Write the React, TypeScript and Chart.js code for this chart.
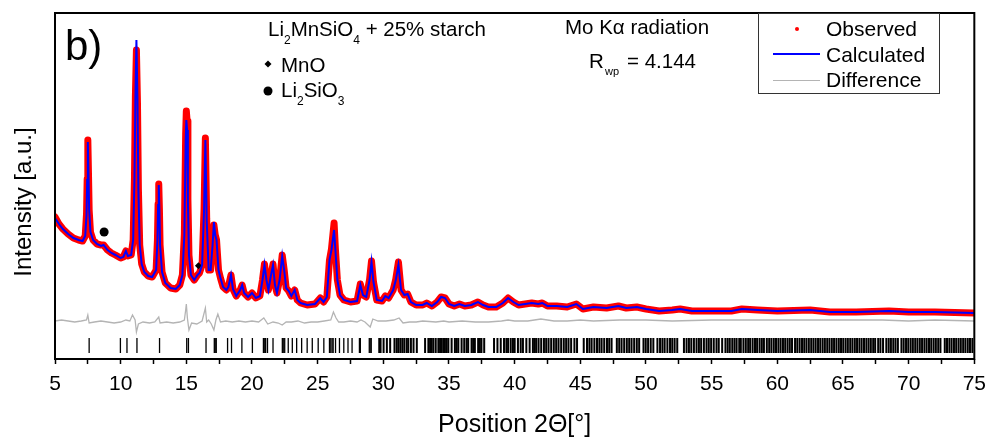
import React, { useEffect, useRef } from "react";
import { Chart, registerables } from "chart.js";
Chart.register(...registerables);

const FAMILY = "'Liberation Sans', Arial, sans-serif";

// 2θ grid (degrees) for observed / calculated profiles
const twoTheta = [
  5.0, 5.3, 5.6, 6.0, 6.4, 6.8, 7.1, 7.3, 7.4, 7.45, 7.5, 7.55, 7.6, 7.7, 7.9, 8.2, 8.5, 8.7, 9.0, 9.3, 9.6,
  10.0, 10.2, 10.4, 10.55, 10.8, 10.95, 11.05, 11.12, 11.2, 11.28, 11.35, 11.45, 11.6, 11.8, 12.1, 12.4, 12.7,
  12.8, 12.85, 12.9, 12.95, 13.0, 13.15, 13.4, 13.8, 14.2, 14.5, 14.7, 14.85, 14.95, 15.0, 15.06, 15.12, 15.2,
  15.35, 15.6, 15.85, 16.0, 16.2, 16.35, 16.45, 16.55, 16.7, 16.85, 17.0, 17.1, 17.2, 17.3, 17.45, 17.6, 17.8,
  18.05, 18.2, 18.4, 18.55, 18.8, 19.1, 19.25, 19.4, 19.7, 20.0, 20.3, 20.6, 20.8, 20.95, 21.1, 21.25, 21.45,
  21.6, 21.75, 21.9, 22.1, 22.3, 22.45, 22.6, 22.8, 23.0, 23.25, 23.45, 23.7, 24.2, 24.8, 25.2, 25.45, 25.7,
  25.9, 26.05, 26.15, 26.25, 26.35, 26.5, 26.7, 27.0, 27.5, 28.0, 28.25, 28.45, 28.7, 28.95, 29.1, 29.25, 29.5,
  29.9, 30.15, 30.4, 30.75, 30.95, 31.15, 31.35, 31.6, 31.85, 32.1, 32.5, 33.0, 33.3, 33.7, 34.1, 34.4, 34.7,
  35.0, 35.4, 35.8, 36.2, 36.7, 37.2, 37.6, 38.0, 38.6, 39.1, 39.5, 39.9, 40.3, 40.8, 41.3, 41.8, 42.1, 42.5,
  43.2, 44.0, 44.7, 45.2, 46.0, 47.0, 47.9, 48.5, 49.3, 50.0, 51.0, 52.0, 52.6, 53.5, 55.0, 56.5, 57.3, 58.5,
  60.0, 62.5, 64.0, 66.0, 68.5, 70.0, 72.0, 75.0,
];

const calculated = [
  1410, 1350, 1300, 1250, 1210, 1190, 1180, 1230, 1440, 1790, 2170, 1840, 1490, 1270, 1190, 1150, 1130, 1140, 1090, 1060, 1040,
  1010, 1020, 1080, 1030, 1040, 1190, 1790, 2590, 3190, 2590, 1690, 1140, 950, 870, 830, 820, 890,
  1190, 1540, 1740, 1490, 1140, 870, 760, 710, 700, 740, 840, 1240, 2190, 2390, 2290, 1590, 1040,
  840, 790, 840, 860, 940, 1490, 2190, 1390, 890, 890, 1140, 1370, 1240, 1190, 890, 810, 720,
  690, 720, 840, 700, 630, 690, 740, 660, 620, 660, 610, 630, 790, 940, 790, 690, 840,
  940, 740, 660, 790, 1030, 890, 710, 680, 630, 690, 590, 560, 540, 550, 610, 570, 620,
  990, 1090, 1190, 1290, 1090, 790, 640, 590, 570, 580, 740, 640, 620, 790, 970, 770, 590,
  580, 630, 610, 690, 790, 940, 690, 640, 650, 570, 540, 540, 560, 530, 570, 620, 610,
  550, 530, 550, 530, 540, 570, 540, 520, 520, 560, 610, 570, 540, 550, 560, 550, 560, 530,
  530, 520, 550, 500, 520, 510, 530, 510, 520, 500, 480, 490, 500, 480, 480, 480, 500, 490,
  480, 490, 470, 470, 480, 470, 470, 460,
];

const observed = [
  1420, 1350, 1300, 1250, 1210, 1190, 1180, 1230, 1450, 1800, 2190, 1850, 1490, 1270, 1190, 1150, 1140, 1140, 1090, 1060, 1040,
  1010, 1020, 1080, 1030, 1040, 1190, 1800, 2620, 3090, 2560, 1700, 1140, 950, 870, 830, 820, 890,
  1190, 1550, 1750, 1500, 1140, 870, 760, 710, 700, 740, 840, 1250, 2250, 2480, 2380, 1600, 1040,
  840, 790, 840, 860, 940, 1500, 2210, 1400, 890, 890, 1140, 1340, 1240, 1190, 890, 810, 720,
  690, 720, 840, 700, 630, 690, 740, 660, 620, 660, 610, 630, 790, 950, 790, 690, 840,
  950, 740, 660, 790, 1040, 890, 710, 680, 630, 690, 590, 560, 540, 550, 610, 570, 620,
  990, 1100, 1230, 1360, 1100, 790, 640, 590, 570, 580, 750, 640, 620, 790, 980, 770, 590,
  580, 630, 610, 690, 800, 970, 690, 640, 650, 570, 540, 540, 560, 530, 570, 620, 610,
  550, 530, 550, 530, 540, 570, 540, 520, 520, 560, 610, 570, 540, 550, 560, 550, 560, 530,
  530, 520, 550, 500, 520, 510, 530, 510, 520, 500, 480, 490, 500, 480, 480, 480, 500, 490,
  480, 490, 470, 470, 480, 470, 470, 460,
];

// Difference curve (observed - calculated, offset)
const diffTheta = [
  5.0, 5.5, 6.0, 6.5, 7.0, 7.4, 7.5, 7.6, 8.0, 8.5, 9.0, 9.5, 10.0, 10.4, 10.7, 10.9, 11.1, 11.2, 11.35, 11.7,
  12.2, 12.6, 12.9, 13.0, 13.5, 14.0, 14.5, 14.85, 14.95, 15.0, 15.08, 15.2, 15.4, 15.8, 16.2, 16.45, 16.55,
  16.7, 16.9, 17.1, 17.25, 17.4, 17.6, 18.0, 18.5, 19.0, 19.5, 20.0, 20.5, 20.9, 21.2, 21.6, 22.0, 22.3, 22.6,
  23.0, 23.5, 24.0, 24.5, 25.0, 25.5, 26.0, 26.2, 26.4, 26.6, 27.0, 27.5, 28.0, 28.3, 28.6, 29.0, 29.2, 29.6,
  30.2, 30.8, 31.2, 31.5, 32.0, 32.5, 33.0, 34.0, 34.6, 35.0, 36.0, 37.0, 38.0, 39.0, 39.5, 40.0, 41.0, 42.0,
  43.0, 44.0, 45.0, 46.0, 48.0, 50.0, 52.0, 55.0, 58.0, 60.0, 62.0, 65.0, 68.0, 70.0, 72.0, 75.0,
];

const difference = [
  380, 390, 380, 370, 380, 390, 440, 360, 370, 380, 370, 360, 370, 390, 380, 440, 390, 270, 350, 370,
  360, 370, 420, 360, 370, 360, 370, 390, 490, 550, 410, 290, 360, 350, 380, 510, 370,
  390, 350, 290, 390, 450, 370, 380, 370, 380, 370, 380, 370, 410, 350, 370, 360, 340, 370,
  370, 380, 360, 370, 370, 380, 390, 470, 410, 370, 370, 380, 370, 390, 370, 320, 400, 380,
  380, 390, 410, 360, 370, 370, 380, 370, 380, 370, 380, 370, 370, 380, 390, 380, 380, 400,
  380, 380, 390, 380, 390, 390, 380, 390, 390, 390, 390, 390, 390, 380, 390, 380,
];

// Bragg reflection positions (2θ)
const reflections = [
  7.6, 9.98, 10.48, 11.24, 12.96, 15.03, 15.16, 16.5, 17.13, 17.2, 17.28, 18.14, 18.44, 19.23, 20.03, 20.87,
  20.97, 21.04, 21.18, 21.6, 22.31, 22.38, 22.49, 22.76, 23.07, 23.4, 23.78, 24.2, 24.59, 25.04, 25.47, 25.9,
  26.0, 26.1, 26.18, 26.36, 26.66, 26.99, 27.31, 27.62, 28.18, 28.25, 28.93, 29.0, 29.08, 29.69, 29.79, 30.02,
  30.27, 30.52, 30.85, 31.02, 31.15, 31.3, 31.45, 31.6, 31.78, 31.9, 32.1, 32.3, 32.55,
  33.18, 33.43, 33.56, 33.68, 33.81, 33.99, 34.19, 34.32, 34.44, 34.57, 34.69, 34.82, 34.95, 35.2, 35.45,
  35.58, 35.71, 35.96, 36.16, 36.34, 36.46, 36.72, 36.84, 36.97, 37.22, 37.35, 37.47, 37.68,
  38.43, 38.69, 38.94, 39.19, 39.37, 39.5, 39.7, 39.87, 40.0, 40.25, 40.46, 40.63, 40.89, 41.14, 41.39,
  41.52, 41.64, 41.82, 42.02, 42.23, 42.4, 42.58, 42.78, 42.98, 43.16, 43.34, 43.54, 43.74, 43.92, 44.1,
  44.3, 44.55, 44.75,
  45.26, 45.51, 45.69, 45.86, 46.07, 46.27, 46.45, 46.62, 46.82, 47.03, 47.2, 47.38,
  47.78, 47.96, 48.14, 48.34, 48.54, 48.72, 48.9, 49.1, 49.3, 49.48,
  49.81, 49.98, 50.16, 50.36, 50.56,
  50.87, 51.07, 51.25, 51.42, 51.63, 51.83, 52.0, 52.18, 52.38,
  52.89, 53.09, 53.27, 53.45, 53.65, 53.85, 54.03, 54.2, 54.41, 54.61, 54.78, 54.96, 55.16, 55.37, 55.54,
  55.8, 56.05, 56.22, 56.38, 56.57, 56.74, 56.9, 57.1, 57.22, 57.42, 57.6, 57.78, 57.93, 58.12, 58.3,
  58.46, 58.65, 58.82, 58.98, 59.2, 59.38, 59.55, 59.73, 59.9, 60.08, 60.25, 60.43, 60.6, 60.78, 60.95,
  61.12, 61.35, 61.52, 61.7, 61.88, 62.05, 62.22, 62.4, 62.58, 62.75, 62.92, 63.1, 63.27, 63.45, 63.62,
  63.8, 63.97, 64.15, 64.32, 64.5, 64.68, 64.85, 65.02, 65.2, 65.37, 65.55, 65.72, 65.9, 66.07, 66.25,
  66.42, 66.6, 66.78, 66.95, 67.12, 67.3, 67.45, 67.68, 67.85, 68.05, 68.3, 68.48, 68.65, 68.83, 69.0,
  69.18, 69.45, 69.62, 69.8, 69.97, 70.15, 70.32, 70.5, 70.67, 70.85, 71.02, 71.2, 71.37, 71.55, 71.72,
  71.9, 72.07, 72.25, 72.42, 72.75, 72.92, 73.1, 73.27, 73.45, 73.62, 73.8, 73.97, 74.15, 74.32, 74.5,
  74.67, 74.85,
];
const reflectionLevel = 135;

// Impurity phase markers
const mnoMarker = { x: 15.92, y: 933 };
const li2sio3Marker = { x: 8.74, y: 1270 };

const xTickValues = [
  5, 7.5, 10, 12.5, 15, 17.5, 20, 22.5, 25, 27.5, 30, 32.5, 35, 37.5, 40, 42.5, 45, 47.5, 50, 52.5, 55,
  57.5, 60, 62.5, 65, 67.5, 70, 72.5, 75,
];

type Part = [string, boolean];
function drawParts(ctx: CanvasRenderingContext2D, x: number, y: number, parts: Part[], size: number, subSize: number, subDy: number) {
  let cx = x;
  for (const [t, sub] of parts) {
    ctx.font = `${sub ? subSize : size}px ${FAMILY}`;
    ctx.fillText(t, cx, sub ? y + subDy : y);
    cx += ctx.measureText(t).width;
  }
}

const annotations = {
  id: "annotations",
  afterDraw(chart: any) {
    const ctx: CanvasRenderingContext2D = chart.ctx;
    const { left, top, right, bottom } = chart.chartArea;
    ctx.save();
    // frame
    ctx.strokeStyle = "#000";
    ctx.lineWidth = 2;
    ctx.strokeRect(left, top, right - left, bottom - top);

    ctx.fillStyle = "#000";
    ctx.textAlign = "left";
    ctx.textBaseline = "alphabetic";

    // panel label
    ctx.font = `42px ${FAMILY}`;
    ctx.fillText("b)", 65, 60);

    // sample description
    drawParts(ctx, 268, 36, [["Li", false], ["2", true], ["MnSiO", false], ["4", true], [" + 25% starch", false]], 20.5, 12, 8);

    // phase legend
    ctx.beginPath();
    ctx.moveTo(268, 60.5);
    ctx.lineTo(271.5, 64);
    ctx.lineTo(268, 67.5);
    ctx.lineTo(264.5, 64);
    ctx.closePath();
    ctx.fill();
    ctx.font = `20.5px ${FAMILY}`;
    ctx.fillText("MnO", 281, 72);
    ctx.beginPath();
    ctx.arc(268, 91, 4.5, 0, Math.PI * 2);
    ctx.fill();
    drawParts(ctx, 281, 97, [["Li", false], ["2", true], ["SiO", false], ["3", true]], 20.5, 12, 8);

    // radiation / Rwp
    ctx.font = `20.5px ${FAMILY}`;
    ctx.fillText("Mo K\u03b1 radiation", 565, 34);
    ctx.fillText("R", 589, 68);
    ctx.font = `11px ${FAMILY}`;
    ctx.fillText("wp", 605, 75);
    ctx.font = `20.5px ${FAMILY}`;
    ctx.fillText("= 4.144", 627, 68);

    // legend box
    ctx.fillStyle = "#fff";
    ctx.fillRect(758, 13, 182, 81);
    ctx.strokeStyle = "#333";
    ctx.lineWidth = 1;
    ctx.strokeRect(758.5, 13.5, 181, 80);
    ctx.fillStyle = "#ff0000";
    ctx.beginPath();
    ctx.arc(797, 29, 2, 0, Math.PI * 2);
    ctx.fill();
    ctx.strokeStyle = "#0000ff";
    ctx.lineWidth = 2;
    ctx.beginPath();
    ctx.moveTo(773, 54);
    ctx.lineTo(820, 54);
    ctx.stroke();
    ctx.strokeStyle = "#b4b4b4";
    ctx.lineWidth = 1;
    ctx.beginPath();
    ctx.moveTo(773, 80.5);
    ctx.lineTo(820, 80.5);
    ctx.stroke();
    ctx.fillStyle = "#000";
    ctx.font = `21px ${FAMILY}`;
    ctx.fillText("Observed", 826, 36);
    ctx.fillText("Calculated", 826, 62);
    ctx.fillText("Difference", 826, 87);

    // y title
    ctx.save();
    ctx.translate(24, 202);
    ctx.rotate(-Math.PI / 2);
    ctx.textAlign = "center";
    ctx.textBaseline = "middle";
    ctx.font = `24px ${FAMILY}`;
    ctx.fillText("Intensity [a.u.]", 0, 0);
    ctx.restore();

    ctx.restore();
  },
};

export default function App() {
  const ref = useRef<HTMLCanvasElement>(null);
  useEffect(() => {
    const toPts = (xs: number[], ys: number[]) => xs.map((x, i) => ({ x, y: ys[i] }));
    const chart = new Chart(ref.current!, {
      type: "scatter",
      data: {
        datasets: [
          {
            label: "Calculated",
            data: toPts(twoTheta, calculated),
            showLine: true,
            borderColor: "#0000ff",
            borderWidth: 2,
            pointRadius: 0,
            order: 0,
          } as any,
          {
            label: "Observed",
            data: toPts(twoTheta, observed),
            showLine: true,
            borderColor: "#ff0000",
            borderWidth: 7,
            borderJoinStyle: "round",
            borderCapStyle: "round",
            pointRadius: 2,
            pointBorderWidth: 0,
            pointBackgroundColor: "#ff0000",
            order: 1,
          } as any,
          {
            label: "Difference",
            data: toPts(diffTheta, difference),
            showLine: true,
            borderColor: "#b4b4b4",
            borderWidth: 1.3,
            pointRadius: 0,
            order: 2,
          } as any,
          {
            label: "Reflections",
            data: reflections.map((x) => ({ x, y: reflectionLevel })),
            pointStyle: "line",
            rotation: 90,
            pointRadius: 7.5,
            borderColor: "#000",
            pointBorderColor: "#000",
            pointBorderWidth: (c: any) => (c.raw && c.raw.x > 29.5 ? 2 : 1.3),
            showLine: false,
            order: 3,
          } as any,
          {
            label: "Li2SiO3",
            data: [li2sio3Marker],
            pointStyle: "circle",
            pointRadius: 4.5,
            pointBackgroundColor: "#000",
            pointBorderWidth: 0,
            order: 0,
          } as any,
          {
            label: "MnO",
            data: [mnoMarker],
            pointStyle: "rectRot",
            pointRadius: 3.5,
            pointBackgroundColor: "#000",
            pointBorderWidth: 0,
            order: 0,
          } as any,
        ],
      },
      options: {
        responsive: false,
        animation: false,
        devicePixelRatio: 1,
        layout: { padding: { left: 55, right: 16, top: 13, bottom: 0 } },
        plugins: { legend: { display: false }, tooltip: { enabled: false } },
        scales: {
          x: {
            type: "linear",
            min: 5,
            max: 75,
            afterFit: (s: any) => {
              s.height = 82;
            },
            afterBuildTicks: (s: any) => {
              s.ticks = xTickValues.map((v) => ({ value: v }));
            },
            ticks: {
              autoSkip: false,
              maxRotation: 0,
              color: "#000",
              padding: 8,
              font: { family: FAMILY, size: 21 },
              callback: (v: any) => (Number(v) % 5 === 0 ? String(v) : ""),
            },
            grid: {
              drawOnChartArea: false,
              drawTicks: true,
              tickLength: 5,
              tickColor: "#000",
              tickWidth: 1.5,
            },
            border: { display: false },
            title: {
              display: true,
              text: "Position 2\u0398[\u00b0]",
              color: "#000",
              font: { family: FAMILY, size: 25 },
              padding: { top: 0, bottom: 1 },
            },
          },
          y: { display: false, min: 0, max: 3460 },
        },
      } as any,
      plugins: [annotations],
    });
    return () => chart.destroy();
  }, []);
  return (
    <div style={{ position: "absolute", left: 0, top: 0, width: 994, height: 441, background: "#fff" }}>
      <canvas ref={ref} width={994} height={441} style={{ display: "block" }} />
    </div>
  );
}
